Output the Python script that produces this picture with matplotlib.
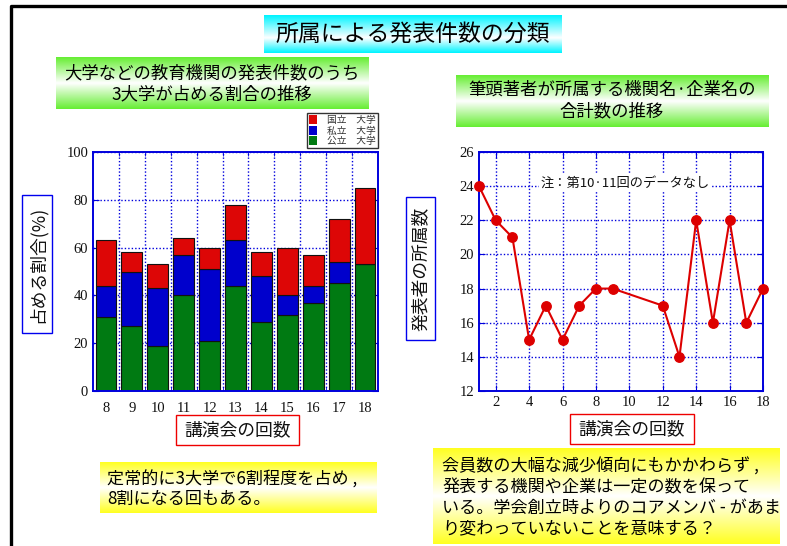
import numpy as np
import matplotlib
matplotlib.use("Agg")
import matplotlib.pyplot as plt
from matplotlib.patches import Rectangle, Patch

plt.rcParams['font.family'] = ['Noto Sans CJK JP', 'DejaVu Sans']

# 左: 3大学が占める割合 (%)
sessions = [8, 9, 10, 11, 12, 13, 14, 15, 16, 17, 18]
public_u = [31, 27, 19, 40, 21, 44, 29, 32, 37, 45, 53]
private_u = [13, 23, 24, 17, 30, 19, 19, 8, 7, 9, 0]
national_u = [19, 8, 10, 7, 9, 15, 10, 20, 13, 18, 32]
legend_labels = ['国立　大学', '私立　大学', '公立　大学']

# 右: 所属数 (第10・11回はデータなし)
rounds = [1, 2, 3, 4, 5, 6, 7, 8, 9, 12, 13, 14, 15, 16, 17, 18]
affil = [24, 22, 21, 15, 17, 15, 17, 18, 18, 17, 14, 22, 16, 22, 16, 18]

W, H = 787, 546
fig = plt.figure(figsize=(W / 100, H / 100), dpi=100)

# 背景用のピクセル座標の軸
bg = fig.add_axes([0, 0, 1, 1], zorder=0)
bg.axis('off')


def grad_box(x0, y0, x1, y1, color, mid=0.55):
    c = np.array(matplotlib.colors.to_rgb(color))
    w = np.ones(3)
    t = np.linspace(0, 1, 100)
    k = np.where(t < mid, t / mid, (1 - t) / (1 - mid))
    img = (c[None, :] * (1 - k[:, None]) + w[None, :] * k[:, None])[:, None, :]
    bg.imshow(img, extent=(x0, x1, y1, y0), aspect='auto', zorder=1)


# 枠線
bg.plot([10.5, 10.5, W], [H, 6, 6], color='black', lw=2.4, solid_capstyle='butt', zorder=2)

# タイトル
grad_box(264, 15, 562, 53, '#00f4ff', mid=0.6)
bg.text(413, 34, '所属による発表件数の分類', fontsize=16.5, ha='center', va='center', zorder=3)

grad_box(56, 57, 369, 109, '#66ee33', mid=0.5)
bg.text(212, 73, '大学などの教育機関の発表件数のうち', fontsize=12.5, ha='center', va='center', zorder=3)
bg.text(212, 94, '3大学が占める割合の推移', fontsize=12.5, ha='center', va='center', zorder=3)

grad_box(456, 75, 769, 127, '#66ee33', mid=0.5)
bg.text(612, 90, '筆頭著者が所属する機関名·企業名の', fontsize=12.5, ha='center', va='center', zorder=3)
bg.text(612, 111, '合計数の推移', fontsize=12.5, ha='center', va='center', zorder=3)

# 軸ラベルの枠
for (x0, y0, x1, y1, ec, txt, rot) in [
        (22, 195, 52, 333, '#0000ee', '占める割合(%)', 90),
        (406, 197, 435, 340, '#0000ee', '発表者の所属数', 90),
        (176, 415, 299, 445, '#ee0000', '講演会の回数', 0),
        (570, 414, 694, 444, '#ee0000', '講演会の回数', 0)]:
    bg.add_patch(Rectangle((x0, y0), x1 - x0, y1 - y0, fc='white', ec=ec, lw=1.0, zorder=2))
    bg.text((x0 + x1) / 2, (y0 + y1) / 2, txt, fontsize=12.8, rotation=rot,
            ha='center', va='center', color='#111111', zorder=3)

# コメント
grad_box(100, 462, 377, 513, '#ffff22', mid=0.5)
bg.text(107, 480, '定常的に3大学で6割程度を占め ,', fontsize=12.3, va='center', zorder=3)
bg.text(107, 499, '8割になる回もある。', fontsize=12.3, va='center', zorder=3)

grad_box(433, 448, 780, 544, '#ffff22', mid=0.5)
lines = ['会員数の大幅な減少傾向にもかかわらず ,',
         '発表する機関や企業は一定の数を保って',
         'いる。学会創立時よりのコアメンバ - があま',
         'り変わっていないことを意味する？']
for i, s in enumerate(lines):
    bg.text(442, 467 + i * 20.5, s, fontsize=12.3, va='center', zorder=3)

bg.set_xlim(0, W)
bg.set_ylim(H, 0)

blue = '#0000dd'


def style_axes(ax):
    for sp in ax.spines.values():
        sp.set_color(blue)
        sp.set_linewidth(1.4)
    ax.tick_params(which='both', direction='in', color=blue, top=True, right=True,
                   labelsize=10.5, labelfontfamily='Liberation Serif', labelcolor='#111111')
    ax.set_axisbelow(True)


# 左の積み上げ棒グラフ
ax1 = fig.add_axes([93 / W, 1 - 391 / H, 285 / W, 239 / H], zorder=1)
x = np.array(sessions)
b_green = ax1.bar(x, public_u, width=0.8, color='#007a12', edgecolor='#111111', lw=0.8)
bot = np.array(public_u)
b_blue = ax1.bar(x, private_u, width=0.8, bottom=bot, color='#0000cc', edgecolor='#111111', lw=0.8)
bot = bot + np.array(private_u)
b_red = ax1.bar(x, national_u, width=0.8, bottom=bot, color='#dd0606', edgecolor='#111111', lw=0.8)
ax1.set_xlim(7.5, 18.5)
ax1.set_ylim(0, 100)
ax1.set_xticks(sessions)
ax1.set_xticks(np.array(sessions[:-1]) + 0.5, minor=True)
ax1.set_yticks([0, 20, 40, 60, 80, 100])
style_axes(ax1)
ax1.tick_params(axis='x', which='major', length=0, pad=8)
ax1.tick_params(axis='x', which='minor', length=3)
ax1.tick_params(axis='y', length=4)
ax1.grid(axis='x', which='minor', color=blue, ls=(0, (1, 1.5)), lw=1.0)
ax1.grid(axis='y', which='major', color=blue, ls=(0, (1, 1.5)), lw=1.0)

handles = [Patch(fc='#dd0606'), Patch(fc='#0000cc'), Patch(fc='#007a12')]
leg = ax1.legend(handles, legend_labels, loc='lower right', bbox_to_anchor=(1.0, 1.015),
                 fontsize=7, frameon=True, fancybox=False, edgecolor='black',
                 handlelength=0.8, handleheight=1.1, labelspacing=0.05, borderpad=0.25,
                 handletextpad=1.0, borderaxespad=0)
leg.get_frame().set_linewidth(1.0)
for t in leg.get_texts():
    t.set_color('#333333')

# 右の折れ線グラフ
ax2 = fig.add_axes([479 / W, 1 - 391 / H, 284 / W, 239 / H], zorder=1)
ax2.plot(rounds, affil, color='#dd0000', lw=1.5, marker='o', ms=6.8, mfc='#dd0000', mec='#dd0000',
         clip_on=False, zorder=3)
ax2.set_xlim(1, 18)
ax2.set_ylim(12, 26)
ax2.set_xticks(range(2, 19, 2))
ax2.set_yticks(range(12, 27, 2))
style_axes(ax2)
ax2.tick_params(length=4)
ax2.grid(color=blue, ls=(0, (1, 1.5)), lw=1.0)
ax2.text(0.515, 0.87, '注：第10·11回のデータなし', transform=ax2.transAxes, fontsize=9.5,
         ha='center', va='center', color='#111111',
         bbox=dict(fc='white', ec='none', pad=1.5), zorder=2)

fig.savefig('out.png', dpi=100)
